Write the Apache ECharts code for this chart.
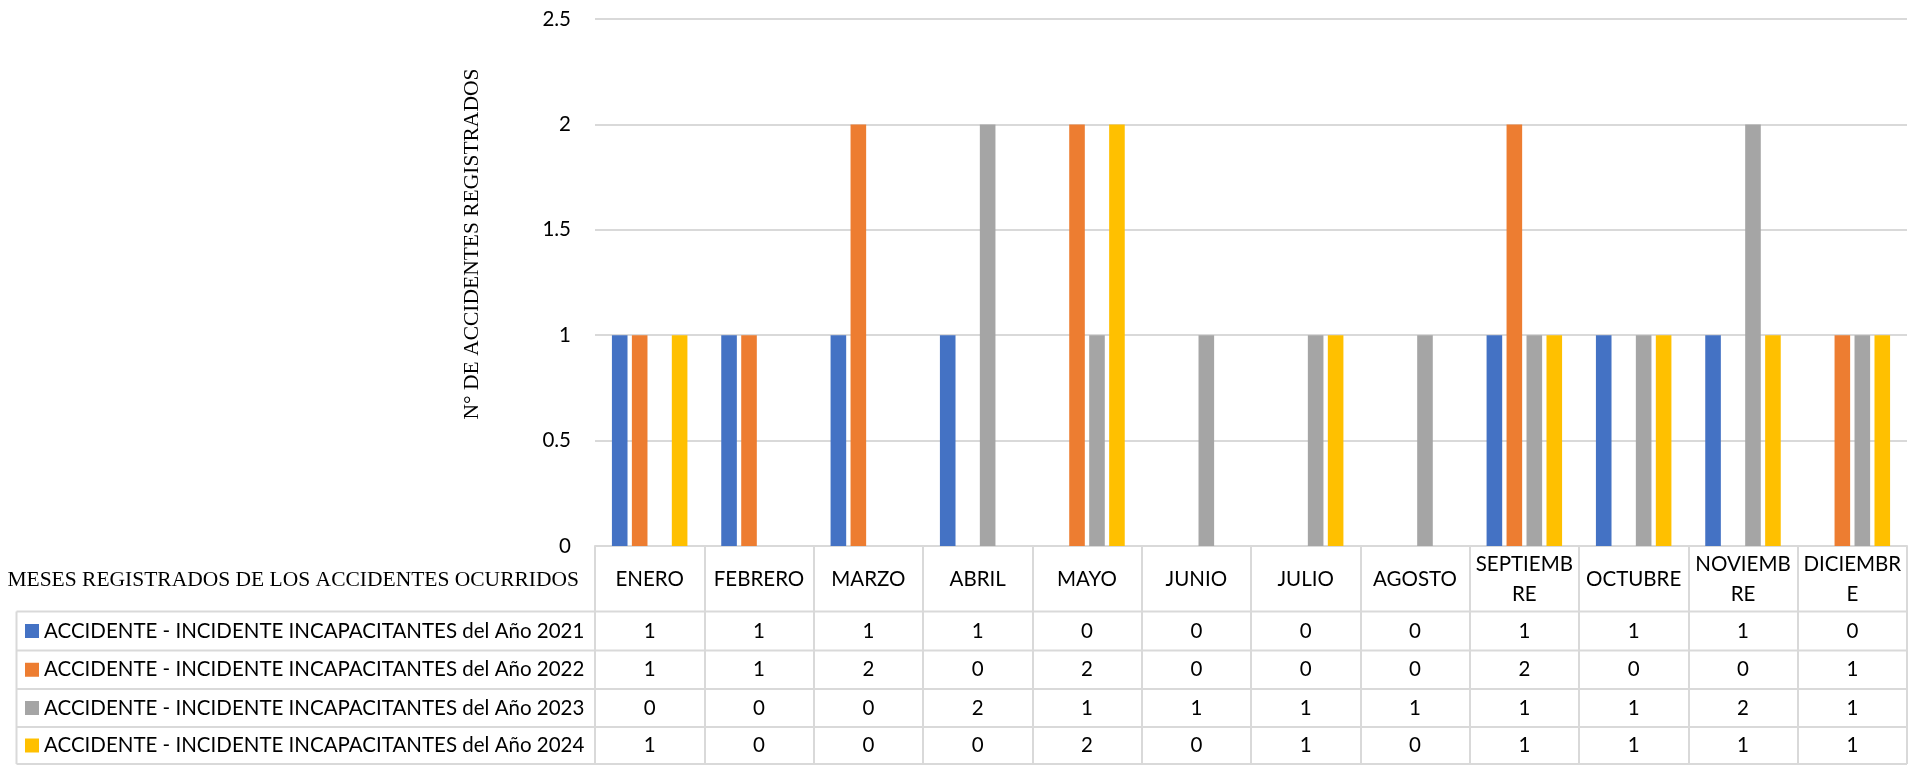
<!DOCTYPE html>
<html>
<head>
<meta charset="utf-8">
<script src="https://cdn.jsdelivr.net/npm/echarts@6/dist/echarts.min.js"></script>
<style>
  html, body { margin: 0; padding: 0; background: #fff; }
  #main { width: 1921px; height: 765px; }
</style>
</head>
<body>
<div id="main"></div>
<script>
var meses = ["ENERO", "FEBRERO", "MARZO", "ABRIL", "MAYO", "JUNIO", "JULIO", "AGOSTO", "SEPTIEMBRE", "OCTUBRE", "NOVIEMBRE", "DICIEMBRE"];
var etiquetasMeses = ["ENERO", "FEBRERO", "MARZO", "ABRIL", "MAYO", "JUNIO", "JULIO", "AGOSTO", "SEPTIEMB\nRE", "OCTUBRE", "NOVIEMB\nRE", "DICIEMBR\nE"];
var nombres = [
  "ACCIDENTE - INCIDENTE INCAPACITANTES del Año 2021",
  "ACCIDENTE - INCIDENTE INCAPACITANTES del Año 2022",
  "ACCIDENTE - INCIDENTE INCAPACITANTES del Año 2023",
  "ACCIDENTE - INCIDENTE INCAPACITANTES del Año 2024"
];
var anio2021 = [1, 1, 1, 1, 0, 0, 0, 0, 1, 1, 1, 0];
var anio2022 = [1, 1, 2, 0, 2, 0, 0, 0, 2, 0, 0, 1];
var anio2023 = [0, 0, 0, 2, 1, 1, 1, 1, 1, 1, 2, 1];
var anio2024 = [1, 0, 0, 0, 2, 0, 1, 0, 1, 1, 1, 1];
var colores = ["#4472C4", "#ED7D31", "#A5A5A5", "#FFC000"];
var valoresY = [0, 2.5, 0.5]; // min, max, intervalo

var series = [anio2021, anio2022, anio2023, anio2024];
var fuente = "Lato, 'Open Sans', sans-serif";
var fuenteSerif = "'Liberation Serif', 'DejaVu Serif', serif";
var lineaTabla = "#d9d9d9";
var tam = 20.5;

var chart = echarts.init(document.getElementById("main"));

var option = {
  animation: false,
  grid: { left: 595, right: 14, top: 19, bottom: 219 },
  xAxis: {
    type: "category",
    data: meses,
    axisLine: { lineStyle: { color: lineaTabla, width: 2 } },
    axisTick: { show: true, length: 218, lineStyle: { color: lineaTabla, width: 2 } },
    axisLabel: {
      interval: 0,
      margin: 33,
      verticalAlign: "middle",
      lineHeight: 30,
      fontSize: tam,
      fontFamily: fuente,
      color: "#000",
      formatter: function (v, i) { return etiquetasMeses[i]; }
    }
  },
  yAxis: {
    type: "value",
    min: valoresY[0],
    max: valoresY[1],
    interval: valoresY[2],
    axisLine: { show: false },
    axisTick: { show: false },
    splitLine: { lineStyle: { color: lineaTabla, width: 2 } },
    axisLabel: { margin: 24, fontSize: tam, fontFamily: fuente, color: "#000" }
  },
  series: series.map(function (d, k) {
    return {
      name: nombres[k],
      type: "bar",
      data: d,
      barWidth: 15.6,
      barGap: "28%",
      itemStyle: { color: colores[k] }
    };
  })
};
chart.setOption(option);

// tabla de datos debajo del eje
var filasY = [611.5, 650.5, 689, 727, 764];
var izq = 16.5;
var der = 1907;
var g = [];

g.push({
  type: "text",
  x: 579, y: 580,
  style: { text: "MESES REGISTRADOS DE LOS ACCIDENTES OCURRIDOS", font: "21.5px " + fuenteSerif, fill: "#000", align: "right", verticalAlign: "middle" }
});
g.push({
  type: "text",
  x: 472, y: 244, rotation: Math.PI / 2,
  style: { text: "N° DE ACCIDENTES REGISTRADOS", font: "21.5px " + fuenteSerif, fill: "#000", align: "center", verticalAlign: "middle" }
});

filasY.forEach(function (y) {
  g.push({ type: "line", shape: { x1: izq, y1: y, x2: der, y2: y }, style: { stroke: lineaTabla, lineWidth: 2 } });
});
g.push({ type: "line", shape: { x1: izq, y1: filasY[0], x2: izq, y2: filasY[4] }, style: { stroke: lineaTabla, lineWidth: 2 } });

for (var k = 0; k < series.length; k++) {
  var yc = (filasY[k] + filasY[k + 1]) / 2;
  g.push({ type: "rect", shape: { x: 25, y: yc - 7, width: 14, height: 14 }, style: { fill: colores[k] } });
  g.push({
    type: "text", x: 44, y: yc,
    style: { text: nombres[k], font: tam + "px " + fuente, fill: "#000", verticalAlign: "middle" }
  });
  for (var i = 0; i < meses.length; i++) {
    var xc = chart.convertToPixel({ xAxisIndex: 0 }, meses[i]);
    g.push({
      type: "text", x: xc, y: yc,
      style: { text: String(series[k][i]), font: tam + "px " + fuente, fill: "#000", align: "center", verticalAlign: "middle" }
    });
  }
}

chart.setOption({ graphic: g });
</script>
</body>
</html>
